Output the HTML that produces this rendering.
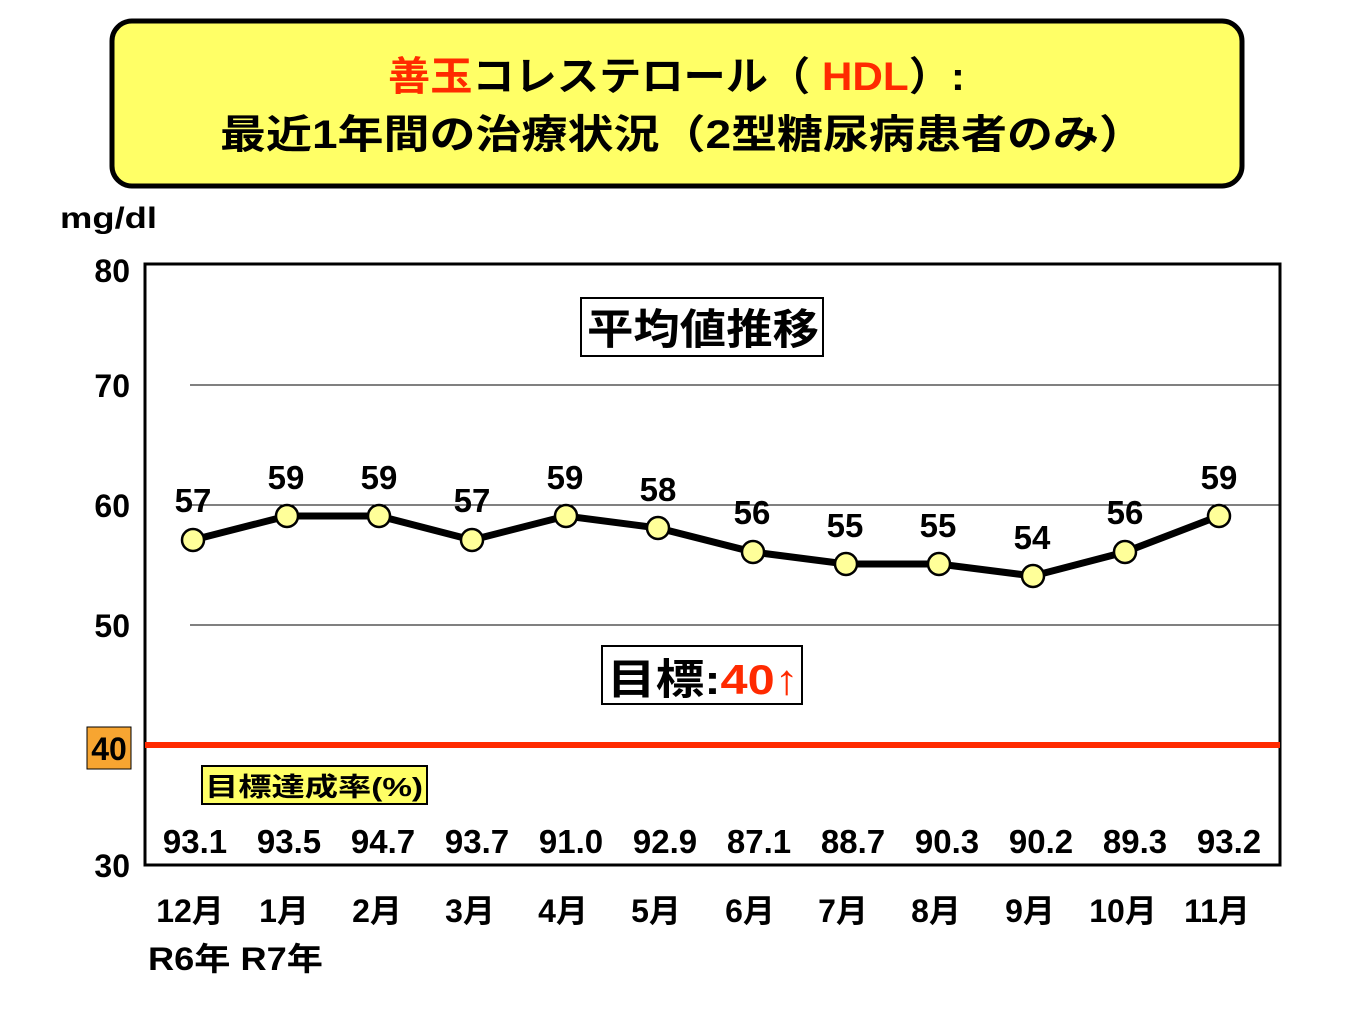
<!DOCTYPE html>
<html><head><meta charset="utf-8"><style>
body{margin:0;background:#fff;width:1365px;height:1024px;overflow:hidden}
svg text{font-family:"Liberation Sans","Noto Sans CJK JP",sans-serif;font-weight:bold}
</style></head><body>
<svg width="1365" height="1024" viewBox="0 0 1365 1024">
<rect x="112" y="21" width="1130" height="165" rx="20" fill="#ffff66" stroke="#000" stroke-width="5"/>
<text x="388" y="90" font-size="40" textLength="577" lengthAdjust="spacingAndGlyphs"><tspan fill="#ff2a00">善玉</tspan>コレステロール（ <tspan fill="#ff2a00">HDL</tspan>）:</text>
<text x="220" y="148" font-size="40" textLength="925" lengthAdjust="spacingAndGlyphs">最近1年間の治療状況（2型糖尿病患者のみ）</text>
<text x="60" y="228" font-size="30" textLength="97" lengthAdjust="spacingAndGlyphs">mg/dl</text>
<g stroke="#000" stroke-width="1">
<line x1="190" y1="385" x2="1280" y2="385"/>
<line x1="190" y1="505" x2="1280" y2="505"/>
<line x1="190" y1="625" x2="1280" y2="625"/>
</g>
<rect x="145" y="264" width="1135" height="601" fill="none" stroke="#000" stroke-width="3"/>
<g font-size="32" text-anchor="end">
<text x="130" y="282">80</text><text x="130" y="397">70</text><text x="130" y="517">60</text><text x="130" y="637">50</text><text x="130" y="877">30</text>
</g>
<rect x="87" y="727" width="44" height="42" fill="#f7a531" stroke="#000" stroke-width="1"/>
<text x="109" y="760" font-size="32" text-anchor="middle">40</text>
<line x1="145" y1="745" x2="1280" y2="745" stroke="#ff2a00" stroke-width="6"/>
<rect x="581" y="298" width="242" height="58" fill="#fff" stroke="#000" stroke-width="2"/>
<text x="587" y="344" font-size="42" textLength="232" lengthAdjust="spacingAndGlyphs">平均値推移</text>
<rect x="602" y="646" width="200" height="58" fill="#fff" stroke="#000" stroke-width="2"/>
<text x="607" y="694" font-size="42" textLength="192" lengthAdjust="spacingAndGlyphs">目標:<tspan fill="#ff2a00">40↑</tspan></text>
<rect x="202" y="766" width="225" height="38" fill="#ffff66" stroke="#000" stroke-width="2"/>
<text x="205" y="796" font-size="26" textLength="218" lengthAdjust="spacingAndGlyphs">目標達成率(%)</text>
<polyline fill="none" stroke="#000" stroke-width="7" points="193,540 287,516 379,516 472,540 566,516 658,528 753,552 846,564 939,564 1033,576 1125,552 1219,516"/>
<g fill="#ffff99" stroke="#000" stroke-width="2.5">
<circle cx="193" cy="540" r="11"/><circle cx="287" cy="516" r="11"/><circle cx="379" cy="516" r="11"/><circle cx="472" cy="540" r="11"/><circle cx="566" cy="516" r="11"/><circle cx="658" cy="528" r="11"/><circle cx="753" cy="552" r="11"/><circle cx="846" cy="564" r="11"/><circle cx="939" cy="564" r="11"/><circle cx="1033" cy="576" r="11"/><circle cx="1125" cy="552" r="11"/><circle cx="1219" cy="516" r="11"/>
</g>
<g font-size="33" text-anchor="middle">
<text x="193" y="512">57</text><text x="286" y="489">59</text><text x="379" y="489">59</text><text x="472" y="512">57</text><text x="565" y="489">59</text><text x="658" y="501">58</text><text x="752" y="524">56</text><text x="845" y="537">55</text><text x="938" y="537">55</text><text x="1032" y="549">54</text><text x="1125" y="524">56</text><text x="1219" y="489">59</text>
</g>
<g font-size="33" text-anchor="middle">
<text x="195" y="853">93.1</text><text x="289" y="853">93.5</text><text x="383" y="853">94.7</text><text x="477" y="853">93.7</text><text x="571" y="853">91.0</text><text x="665" y="853">92.9</text><text x="759" y="853">87.1</text><text x="853" y="853">88.7</text><text x="947" y="853">90.3</text><text x="1041" y="853">90.2</text><text x="1135" y="853">89.3</text><text x="1229" y="853">93.2</text>
</g>
<g font-size="32" text-anchor="middle">
<text x="190" y="922">12月</text><text x="284" y="922">1月</text><text x="377" y="922">2月</text><text x="470" y="922">3月</text><text x="563" y="922">4月</text><text x="656" y="922">5月</text><text x="750" y="922">6月</text><text x="843" y="922">7月</text><text x="936" y="922">8月</text><text x="1030" y="922">9月</text><text x="1123" y="922">10月</text><text x="1217" y="922">11月</text>
</g>
<text x="148" y="970" font-size="32" textLength="175" lengthAdjust="spacingAndGlyphs">R6年 R7年</text>
</svg>
</body></html>
